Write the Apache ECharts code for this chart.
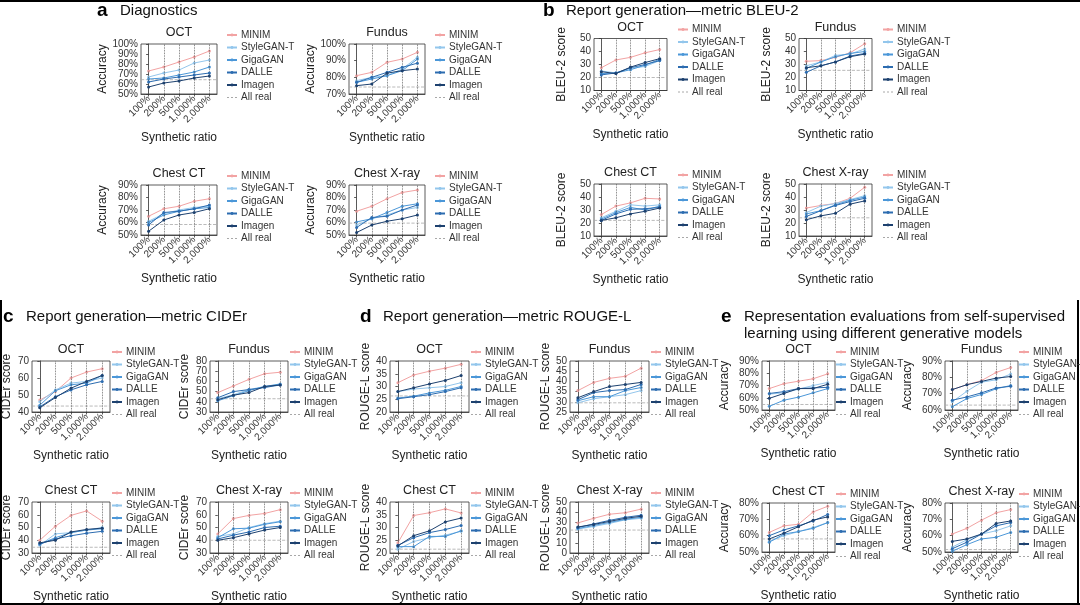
<!DOCTYPE html>
<html><head><meta charset="utf-8">
<script src="https://cdn.jsdelivr.net/npm/echarts@6/dist/echarts.min.js"></script>
<style>html,body{margin:0;padding:0;background:#fff}#c{width:1080px;height:605px}</style>
</head><body><div id="c"></div>
<script>
const seriesNames = ['MINIM','StyleGAN-T','GigaGAN','DALLE','Imagen'];
const realName = 'All real';
const ratioLabels = ['100%','200%','500%','1,000%','2,000%'];
const modalities = ['OCT','Fundus','Chest CT','Chest X-ray'];

// a  Diagnostics (accuracy, %)
const diagOCT = [[73,77,82,87,93],[67,71,74,81,84],[65,66,69,72,77],[62,65,67,69,71],[57,61,63,66,68]];
const diagFundus = [[81,83,89,91,95],[78,80,81,85,92],[77,79,81,84,91],[77,80,83,86,88.5],[75,76,82.5,84,85]];
const diagCT = [[65,71,73,77,79],[61,67,70,72,73],[60,66,69,71,72],[58,68,69,71,74],[53,62,66,68,71]];
const diagXray = [[69,73,79,84,86],[58,63,66,70,72],[60.5,63,68,73,75],[56,64,65,70,74],[52,58,61,63,66]];
const diagAllReal = [64.3,74.2,58.4,59.5];
const diagYRange = [[50,100,10],[70,100,10],[50,90,10],[50,90,10]];

// b  BLEU-2
const bleuOCT = [[27.5,33.5,35.5,39,41.5],[25,23.5,27,28.5,33],[23,23.5,26,29.5,34],[22,23.5,27.5,30,33],[24.5,23,28,31.5,34.5]];
const bleuFundus = [[32.5,33,35.5,39,46],[29,32,37,38,42],[27,32,36,38.5,40],[24,29,32,36.5,38.5],[27.5,29,32,36,38]];
const bleuCT = [[26.5,33,35.5,39,38.5],[24,29,34,33,34],[23,28,32,30,33],[22,27,30.5,31,32],[22,24,27,29,31.5]];
const bleuXray = [[31.5,33.5,35,39,47.5],[28,33,35,38,41],[27,29.5,34,37.5,40],[25,29.5,33.5,36.5,39],[22.5,25.5,27.5,34.5,37]];
const bleuAllReal = [20,25.5,22,24];
const bleuYRange = [[10,50,10],[10,50,10],[10,50,10],[10,50,10]];

// c  CIDEr
const ciderOCT = [[47,52,60,63.5,65.5],[46,53,57,58,60],[44,52.5,56,57,61.5],[43,49,53,56,58],[42.5,48.5,54,58,61.5]];
const ciderFundus = [[49,55.5,62,67.5,69],[43,47,52,55,57],[41,46,51,55,57.5],[44,50,52,54,56.5],[42,46.5,49,55,56.5]];
const ciderCT = [[40,51,59.5,63,55],[36,45,46,48,50],[37,42,46,48,49],[37,41,43.5,45.5,47],[38,40,46.5,48.5,49.5]];
const ciderXray = [[45,57,59.5,61,64],[43,45,50,53,55],[42,49,49.5,52.5,54.5],[41,44,46.5,50,51],[40,42,45,48,50]];
const ciderAllReal = [43.5,43,34.5,40];
const ciderYRange = [[40,70,10],[30,80,10],[30,70,10],[30,70,10]];

// d  ROUGE-L
const rougeOCT = [[31.5,34.5,36,37.2,38.7],[28,29,29.5,30,31.5],[25.5,26.2,27.5,28.5,30],[25.2,26,26.8,28,29.5],[28,29.5,31,32.4,34.3]];
const rougeFundus = [[35.5,39.5,41.5,42.5,46.5],[29.5,31.5,32.5,33.5,35.5],[30.5,32.5,32.5,35.5,37],[31,34.5,35.5,36,38.5],[32,35,37.5,38.5,39.5]];
const rougeCT = [[24,34.7,35.8,37.3,35.7],[21.5,24.5,26,27,28.5],[22.5,22.5,26.5,26.5,28.7],[23,26,28,29.2,30.8],[22.8,26.8,28.7,32.2,33.7]];
const rougeXray = [[29.5,34,38,39.5,43],[23.5,26,29,32.5,34],[24,27,30,33,35],[25,28.5,32,35,37],[25.5,28,31,34,36]];
const rougeAllReal = [26.3,29.5,21.5,22.5];
const rougeYRange = [[20,40,5],[25,50,5],[20,40,5],[0,50,10]];

// e  Representation evaluations (accuracy, %)
const reprOCT = [[67.5,71.5,73.5,75.5,79.5],[63,64,67,70,72.5],[53,58,60.5,64,67.5],[63.5,65,67.5,68,68.5],[59.5,63.5,67.5,67.5,71]];
const reprFundus = [[72.5,75.5,78,83,86],[65,71.5,77,78.5,82],[62,67,69.5,73,75],[66,68,70.5,73.5,74.5],[72.5,75.5,77.5,79.5,80.5]];
const reprCT = [[62,66,67,74.5,78],[56.5,60,62.5,65,68],[56,61,62.5,64.5,68],[60,63.5,66,69,73],[58,61.5,65.5,69.5,71.5]];
const reprXray = [[61,64.5,69.5,74,76],[53,57.5,61,63,66],[50.5,54.5,58,59,62],[52,56,61,66,68],[56.5,58,61,67.5,69]];
const reprAllReal = [54.5,63,58,51.5];
const reprYRange = [[50,90,10],[60,90,10],[50,80,10],[50,80,10]];

// ---------- styling / layout ----------
const colors = ['#f2a3a3','#93c6ec','#4b97d8','#2c6cb0','#1d416f'];
const FONT = '"Liberation Sans", Arial, Helvetica, sans-serif';
const groups = [
  {letter:'a', title:['Diagnostics'], tx:97, ty:11, panels:[diagOCT,diagFundus,diagCT,diagXray], real:diagAllReal, yr:diagYRange, pct:true, yName:'Accuracy',
   cols:[141,349], rows:[44,185], w:76, h:50, ldx:9, yGap:32},
  {letter:'b', title:['Report generation\u2014metric BLEU-2'], tx:543, ty:11, panels:[bleuOCT,bleuFundus,bleuCT,bleuXray], real:bleuAllReal, yr:bleuYRange, pct:false, yName:'BLEU-2 score',
   cols:[594,799], rows:[38.5,184], w:73, h:52, ldx:10, yGap:26},
  {letter:'c', title:['Report generation\u2014metric CIDEr'], tx:3, ty:317, panels:[ciderOCT,ciderFundus,ciderCT,ciderXray], real:ciderAllReal, yr:ciderYRange, pct:false, yName:'CIDEr score',
   cols:[32,210], rows:[361,502], w:78, h:51, ldx:1, yGap:19},
  {letter:'d', title:['Report generation\u2014metric ROUGE-L'], tx:360, ty:317, panels:[rougeOCT,rougeFundus,rougeCT,rougeXray], real:rougeAllReal, yr:rougeYRange, pct:false, yName:'ROUGE-L score',
   cols:[390,570], rows:[361,502], w:79, h:51, ldx:1, yGap:17},
  {letter:'e', title:['Representation evaluations from self-supervised','learning using different generative models'], tx:721, ty:317, panels:[reprOCT,reprFundus,reprCT,reprXray], real:reprAllReal, yr:reprYRange, pct:true, yName:'Accuracy',
   cols:[762,945], rows:[361,503], w:73, h:49, ldx:0, yGap:31}
];

const grid=[], xAxis=[], yAxis=[], series=[], legend=[], graphic=[];
const XMIN=-0.5, XMAX=4.5;
let gi = 0;
groups.forEach(g => {
  graphic.push({type:'text', x:g.tx, y:g.ty, style:{text:g.letter, font:'bold 19px '+FONT, fill:'#000', verticalAlign:'middle'}});
  g.title.forEach((t,li)=>graphic.push({type:'text', x:g.tx+23, y:g.ty+li*16.5, style:{text:t, font:'15px '+FONT, fill:'#111', verticalAlign:'middle'}}));
  g.panels.forEach((vals,k) => {
    const x0 = g.cols[k%2], y0 = g.rows[Math.floor(k/2)];
    grid.push({left:x0, top:y0, width:g.w, height:g.h, show:true, borderColor:'#333', borderWidth:0.8, backgroundColor:'transparent', containLabel:false, outerBoundsMode:'none'});
    xAxis.push({gridIndex:gi, type:'value', min:XMIN, max:XMAX,
      axisLine:{lineStyle:{color:'#333', width:0.8}},
      axisTick:{customValues:[0,1,2,3,4], length:2.5, lineStyle:{color:'#333', width:0.8}},
      axisLabel:{customValues:[0,1,2,3,4], rotate:45, fontSize:10, fontFamily:FONT, color:'#333', margin:3,
        hideOverlap:false, showMinLabel:true, showMaxLabel:true,
        formatter:v=>Number.isInteger(v)&&v>=0&&v<=4?ratioLabels[v]:''},
      splitLine:{show:false},
      name:'Synthetic ratio', nameLocation:'middle', nameGap:38, nameTextStyle:{fontSize:12, fontFamily:FONT, color:'#222'}});
    const yr = g.yr[k];
    yAxis.push({gridIndex:gi, type:'value', min:yr[0], max:yr[1], interval:yr[2],
      axisLine:{show:true, lineStyle:{color:'#333', width:0.8}},
      axisTick:{show:true, length:2.5, lineStyle:{color:'#333', width:0.8}},
      axisLabel:{fontSize:10, fontFamily:FONT, color:'#333', margin:3, formatter:v=>g.pct? v+'%' : String(v)},
      splitLine:{show:false},
      name:g.yName, nameLocation:'middle', nameRotate:90, nameGap:g.yGap, nameTextStyle:{fontSize:12, fontFamily:FONT, color:'#222'}});
    // All real reference + vertical dotted guides
    series.push({name:realName, type:'line', xAxisIndex:gi, yAxisIndex:gi, z:1, symbol:'none', silent:true,
      data:[[XMIN,g.real[k]],[XMAX,g.real[k]]], lineStyle:{color:'#a8a8a8', type:'dashed', width:0.8}, itemStyle:{color:'#a8a8a8'},
      markLine:{silent:true, symbol:'none', label:{show:false}, animation:false,
        lineStyle:{color:'#555', type:'dotted', width:0.8}, data:ratioLabels.map((_,i)=>({xAxis:i}))}});
    vals.forEach((row,si) => {
      series.push({name:seriesNames[si], type:'line', xAxisIndex:gi, yAxisIndex:gi, z:2+si,
        data:row.map((v,i)=>[i,v]), symbol:'circle', symbolSize:3,
        lineStyle:{color:colors[si], width:1}, itemStyle:{color:colors[si]}});
    });
    legend.push({orient:'vertical', left:x0+g.w+g.ldx, top:y0-14, padding:0, itemGap:2.5, itemWidth:10, itemHeight:3.5,
      selectedMode:false,
      data:[...seriesNames, {name:realName, itemStyle:{color:'rgba(0,0,0,0)', borderColor:'rgba(0,0,0,0)', borderWidth:0}, lineStyle:{color:'#a8a8a8', type:[2,2], width:1}}],
      textStyle:{fontSize:10, fontFamily:FONT, color:'#333', lineHeight:10, padding:[0,0,0,-1]}});
    graphic.push({type:'text', x:x0+g.w/2, y:y0-11, style:{text:modalities[k], font:'12.5px '+FONT, fill:'#222', align:'center', verticalAlign:'middle'}});
    gi++;
  });
});
// frame lines
graphic.push({type:'line', shape:{x1:0,y1:1,x2:1080,y2:1}, style:{stroke:'#000', lineWidth:2}});
graphic.push({type:'line', shape:{x1:1,y1:300,x2:1,y2:605}, style:{stroke:'#000', lineWidth:2}});
graphic.push({type:'line', shape:{x1:0,y1:604,x2:1080,y2:604}, style:{stroke:'#000', lineWidth:2}});
graphic.push({type:'line', shape:{x1:1078,y1:300,x2:1078,y2:605}, style:{stroke:'#000', lineWidth:2}});

const chart = echarts.init(document.getElementById('c'), null, {renderer:'canvas'});
chart.setOption({animation:false, backgroundColor:'#fff', textStyle:{fontFamily:FONT},
  grid, xAxis, yAxis, series, legend, graphic});
</script></body></html>
